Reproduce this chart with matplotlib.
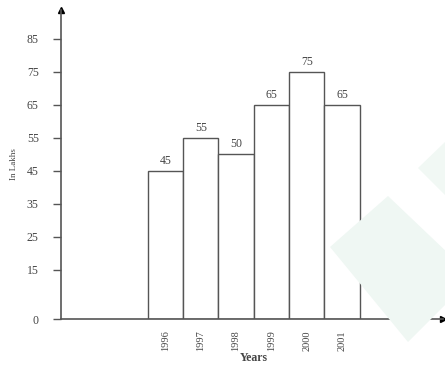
import matplotlib
matplotlib.use("Agg")
import matplotlib.pyplot as plt
from matplotlib.patches import Polygon

years = ["1996", "1997", "1998", "1999", "2000", "2001"]
values = [45, 55, 50, 65, 75, 65]
yticks = [0, 15, 25, 35, 45, 55, 65, 75, 85]

plt.rcParams["font.family"] = ["Liberation Serif", "DejaVu Serif"]
ink = "#444444"

fig = plt.figure(figsize=(4.45, 3.66), dpi=100)

# faint watermark shapes in the background
W, H = 445, 366
def fig_poly(pts, color):
    fig.patches.append(Polygon([(x / W, 1 - y / H) for x, y in pts], closed=True,
                               transform=fig.transFigure, facecolor=color,
                               edgecolor="none", zorder=0))
fig_poly([(330, 247), (388, 196), (450, 255), (450, 300), (408, 342)], "#eff7f3")
fig_poly([(418, 168), (445, 142), (445, 195)], "#f1f8f4")

ax = fig.add_axes([61 / W, 47 / H, (443 - 61) / W, (319 - 10) / H])
ax.patch.set_alpha(0)

x = list(range(len(years)))
ax.bar(x, values, width=1.0, facecolor="white", edgecolor="#555555", linewidth=1.0)
for xi, v in zip(x, values):
    ax.text(xi, v + 1.2, str(v), ha="center", va="bottom", fontsize=8.5, color=ink)

ax.set_xlim(-2.96, 7.86)
ax.set_ylim(0, 93.8)

for s in ["top", "right"]:
    ax.spines[s].set_visible(False)
for s in ["left", "bottom"]:
    ax.spines[s].set_color("#555555")
    ax.spines[s].set_linewidth(1.2)

# arrow heads
ax.plot(0, 1, "^", color="black", markersize=5, transform=ax.transAxes, clip_on=False)
ax.plot(1, 0, ">", color="black", markersize=5, transform=ax.transAxes, clip_on=False)

ax.set_yticks(yticks)
ax.set_yticklabels([str(t) for t in yticks], fontsize=8.5, color=ink)
ax.tick_params(axis="y", length=6, width=1, color="#555555", pad=10)

ax.set_xticks(x)
ax.set_xticklabels(years, rotation=90, fontsize=7.5, color=ink)
ax.tick_params(axis="x", length=0, pad=8)

ax.set_ylabel("In Lakhs", fontsize=6.5, color=ink, labelpad=6)
ax.text(2.5, -0.125, "Years", transform=ax.get_xaxis_transform(), ha="center", va="center",
        fontsize=8.5, fontweight="bold", color=ink)

fig.savefig("out.png", dpi=100)
